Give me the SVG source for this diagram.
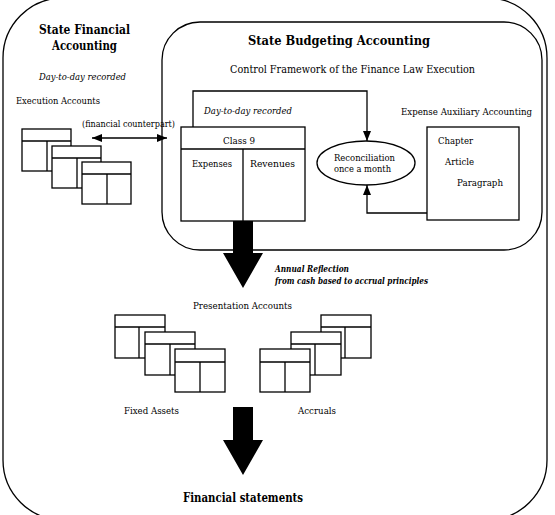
<svg xmlns="http://www.w3.org/2000/svg" width="555" height="515" viewBox="0 0 555 515">
<defs>
<style>
.ln{fill:none;stroke:#000;stroke-width:1.3}
.card rect{fill:#fff;stroke:#000;stroke-width:1.3}
.card line{stroke:#000;stroke-width:1.3}
text{font-family:"DejaVu Serif","Liberation Serif",serif;fill:#000}
.t{font-size:9.2px}
.c{font-size:11px}
.i{font-size:9.2px;font-style:italic}
.b{font-size:12.5px;font-weight:bold}
.bi{font-size:8.8px;font-weight:bold;font-style:italic}
.big{fill:#000;stroke:none}
</style>
<marker id="ah" viewBox="0 0 10 8" refX="10" refY="4" markerWidth="10" markerHeight="8" markerUnits="userSpaceOnUse" orient="auto-start-reverse">
<path d="M0,0 L10,4 L0,8 Z" fill="#000"/>
</marker>
</defs>
<rect width="555" height="515" fill="#fff"/>

<g id="state-financial-accounting">
<rect x="3" y="-2" width="544" height="522" rx="60" ry="60" class="ln" stroke-width="1.5"/>
<text class="b" x="39" y="34" textLength="91" lengthAdjust="spacingAndGlyphs">State  Financial</text>
<text class="b" x="52" y="50" textLength="65" lengthAdjust="spacingAndGlyphs">Accounting</text>
<text class="i" x="39" y="80" textLength="87" lengthAdjust="spacingAndGlyphs">Day-to-day recorded</text>
<text class="t" x="16" y="104" textLength="84" lengthAdjust="spacingAndGlyphs">Execution Accounts</text>
<text class="t" x="82" y="127" textLength="93" lengthAdjust="spacingAndGlyphs">(financial counterpart)</text>
</g>

<g id="execution-accounts">
<g class="card"><rect x="22" y="129" width="49" height="42"/><line x1="22" y1="141" x2="71" y2="141"/><line x1="47" y1="141" x2="47" y2="171"/></g>
<g class="card"><rect x="52" y="146" width="49" height="42"/><line x1="52" y1="158" x2="101" y2="158"/><line x1="77" y1="158" x2="77" y2="188"/></g>
<g class="card"><rect x="82" y="162" width="49" height="42"/><line x1="82" y1="174" x2="131" y2="174"/><line x1="107" y1="174" x2="107" y2="204"/></g>
</g>

<g id="state-budgeting-accounting">
<rect x="162" y="22" width="380" height="228" rx="38" ry="38" class="ln"/>
<text class="b" x="248" y="45" textLength="182" lengthAdjust="spacingAndGlyphs">State  Budgeting  Accounting</text>
<text class="c" x="230" y="73" textLength="245" lengthAdjust="spacingAndGlyphs">Control Framework of the Finance Law Execution</text>
<text class="i" x="204" y="114" textLength="88" lengthAdjust="spacingAndGlyphs">Day-to-day recorded</text>
<text class="t" x="401" y="115" textLength="131" lengthAdjust="spacingAndGlyphs">Expense Auxiliary Accounting</text>
</g>

<g id="class-9">
<rect x="181" y="127" width="124" height="94" class="ln" fill="#fff"/>
<line x1="181" y1="149" x2="305" y2="149" class="ln"/>
<line x1="243" y1="149" x2="243" y2="221" class="ln"/>
<text class="t" x="223" y="144" textLength="32" lengthAdjust="spacingAndGlyphs">Class 9</text>
<text class="t" x="192" y="167" textLength="40" lengthAdjust="spacingAndGlyphs">Expenses</text>
<text class="t" x="250" y="167" textLength="45" lengthAdjust="spacingAndGlyphs">Revenues</text>
</g>

<g id="reconciliation">
<ellipse cx="366" cy="163" rx="49" ry="22" class="ln"/>
<text class="t" x="334" y="161" textLength="61" lengthAdjust="spacingAndGlyphs">Reconciliation</text>
<text class="t" x="334" y="172" textLength="57" lengthAdjust="spacingAndGlyphs">once a month</text>
</g>

<g id="expense-auxiliary">
<rect x="427" y="127" width="92" height="93" class="ln"/>
<text class="t" x="438" y="144" textLength="35" lengthAdjust="spacingAndGlyphs">Chapter</text>
<text class="t" x="445" y="165" textLength="29" lengthAdjust="spacingAndGlyphs">Article</text>
<text class="t" x="457" y="186" textLength="46" lengthAdjust="spacingAndGlyphs">Paragraph</text>
</g>

<g id="presentation-accounts">
<text class="t" x="193" y="309" textLength="99" lengthAdjust="spacingAndGlyphs">Presentation Accounts</text>
</g>

<g id="fixed-assets">
<g class="card"><rect x="115" y="315" width="50" height="43"/><line x1="115" y1="327" x2="165" y2="327"/><line x1="139" y1="327" x2="139" y2="358"/></g>
<g class="card"><rect x="145" y="332" width="50" height="43"/><line x1="145" y1="344" x2="195" y2="344"/><line x1="170" y1="344" x2="170" y2="375"/></g>
<g class="card"><rect x="175" y="349" width="50" height="43"/><line x1="175" y1="362" x2="225" y2="362"/><line x1="200" y1="362" x2="200" y2="392"/></g>
<text class="t" x="124" y="414" textLength="55" lengthAdjust="spacingAndGlyphs">Fixed Assets</text>
</g>

<g id="accruals">
<g class="card"><rect x="321" y="315" width="50" height="43"/><line x1="321" y1="327" x2="371" y2="327"/><line x1="345" y1="327" x2="345" y2="358"/></g>
<g class="card"><rect x="291" y="332" width="50" height="43"/><line x1="291" y1="344" x2="341" y2="344"/><line x1="315" y1="344" x2="315" y2="375"/></g>
<g class="card"><rect x="260" y="349" width="50" height="43"/><line x1="260" y1="362" x2="310" y2="362"/><line x1="285" y1="362" x2="285" y2="392"/></g>
<text class="t" x="298" y="414" textLength="38" lengthAdjust="spacingAndGlyphs">Accruals</text>
</g>

<g id="financial-statements">
<text class="b" x="183" y="502" textLength="120" lengthAdjust="spacingAndGlyphs">Financial statements</text>
</g>

<g id="connectors">
<line x1="92" y1="138" x2="167" y2="138" class="ln" marker-start="url(#ah)" marker-end="url(#ah)"/>
<polyline points="193,127 193,91 367,91 367,141" class="ln" marker-end="url(#ah)"/>
<polyline points="427,213 367,213 367,185" class="ln" marker-end="url(#ah)"/>
<path class="big" d="M233,221 L253,221 L253,253 L263,253 L243,288 L223,253 L233,253 Z"/>
<text class="bi" x="275" y="272" textLength="74" lengthAdjust="spacingAndGlyphs">Annual Reflection</text>
<text class="bi" x="275" y="284" textLength="153" lengthAdjust="spacingAndGlyphs">from cash based to accrual principles</text>
<path class="big" d="M233,407 L253,407 L253,440 L263,440 L243,475 L223,440 L233,440 Z"/>
</g>
</svg>
